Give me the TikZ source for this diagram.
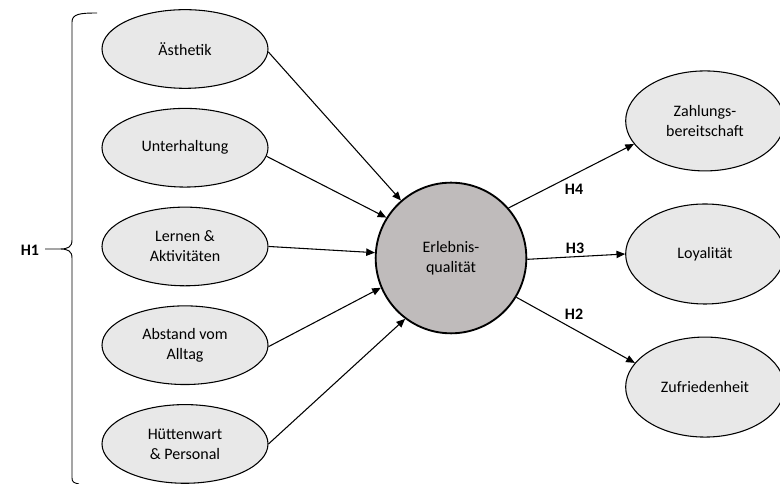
\documentclass[tikz,border=0pt]{standalone}
\usepackage{fontspec}
\setmainfont{Carlito}
\usetikzlibrary{positioning,shapes.geometric,arrows.meta}
\definecolor{ellgray}{RGB}{232,232,232}
\definecolor{coregray}{RGB}{191,187,187}

\begin{document}
\begin{tikzpicture} [
	x=0.75pt,y=0.75pt,
	node distance=14.25pt,
	every node/.style={font=\fontsize{12}{15}\selectfont},
	factor/.style={
		ellipse,draw=black,fill=ellgray,line width=0.8pt,
		inner sep=0pt,align=center,
		minimum width=124.5pt,minimum height=59pt},
	outcome/.style={
		ellipse,draw=black,fill=ellgray,line width=0.8pt,
		inner sep=0pt,align=center,
		minimum width=119pt,minimum height=75pt},
	core/.style={
		circle,draw=black,fill=coregray,line width=1.4pt,
		inner sep=0pt,align=center,
		minimum size=113pt},
	hyp/.style={
		font=\fontsize{12}{15}\selectfont\bfseries},
	tip/.style={
		-{Triangle[length=6.5pt,width=5.5pt]},line width=0.8pt}]
\useasboundingbox (0,0) rectangle (780,484);
% left column
\node [factor]	(aesthetik) at (185,435)		{Ästhetik};
\node [factor]	(unterhaltung) [below=of aesthetik]	{Unterhaltung};
\node [factor]	(lernen) [below=of unterhaltung]	{Lernen \&\\Aktivitäten};
\node [factor]	(abstand) [below=of lernen]		{Abstand vom\\Alltag};
\node [factor]	(huettenwart) [below=of abstand]	{Hüttenwart\\\& Personal};
% centre and right column
\node [core]	(erlebnis) at (451,226)			{Erlebnis-\\qualität};
\node [outcome]	(loyalitaet) at (705,230)		{Loyalität};
\node [outcome]	(zahlung) [above=24pt of loyalitaet]	{Zahlungs-\\bereitschaft};
\node [outcome]	(zufriedenheit) [below=24pt of loyalitaet]	{Zufriedenheit};
% hypotheses
\node [hyp]	(h1) at (30,234)	{H1};
\node [hyp]	(h4) at (574,295)	{H4};
\node [hyp]	(h3) at (575,236)	{H3};
\node [hyp]	(h2) at (574,170)	{H2};
% brace
\coordinate (brace top) at (97,471);
\coordinate (brace tip) at (45,235);
\coordinate (brace bottom) at (79,0);
\draw[line width=0.7pt] (brace top) .. controls (80,471) and (72,470) .. (72,462) -- (72,244)
	.. controls (72,237) and (68,235) .. (60,235) -- (brace tip)
	(60,235) .. controls (68,235) and (72,233) .. (72,226) -- (72,6)
	.. controls (72,2) and (74,1) .. (brace bottom);
\draw[tip] (aesthetik.-2) -- (erlebnis.131);
\draw[tip] (unterhaltung.-6) -- (erlebnis.148);
\draw[tip] (lernen.east) -- (erlebnis.176);
\draw[tip] (abstand.-1) -- (erlebnis.203);
\draw[tip] (huettenwart.east) -- (erlebnis.233);
\draw[tip] (erlebnis.41) -- (zahlung.198);
\draw[tip] (erlebnis.-1) -- (loyalitaet.west);
\draw[tip] (erlebnis.-31) -- (zufriedenheit.161);
\end{tikzpicture}
\end{document}
